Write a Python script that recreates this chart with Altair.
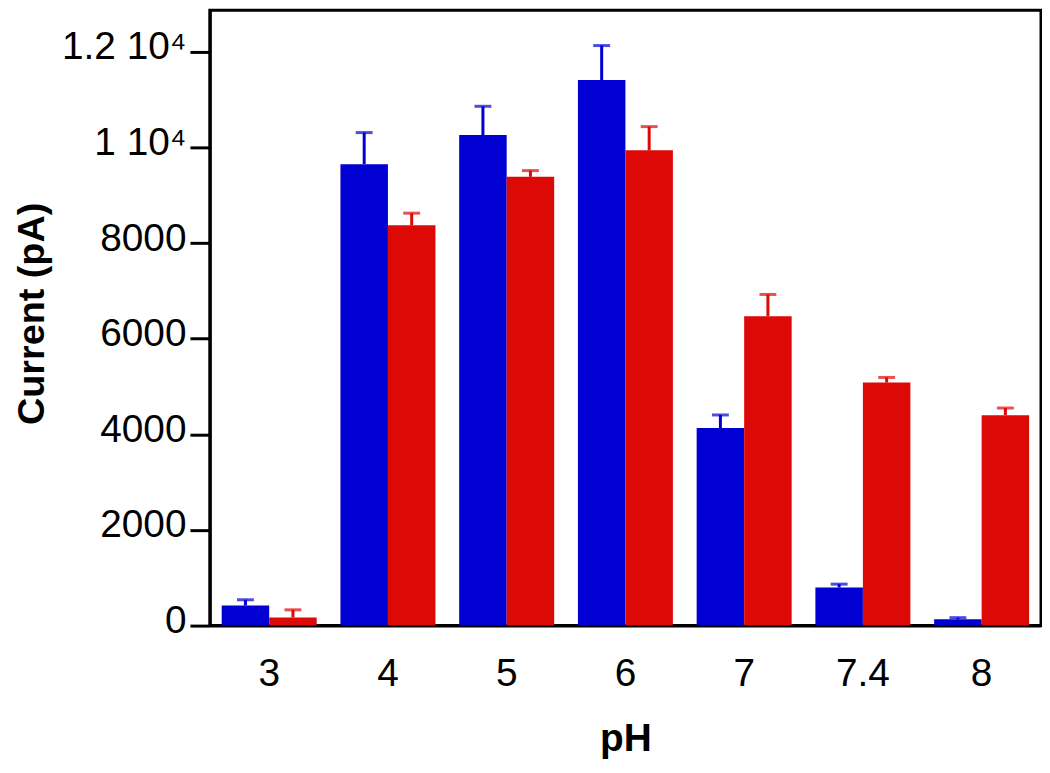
import altair as alt
import pandas as pd

ph = ["3", "4", "5", "6", "7", "7.4", "8"]
blue_vals = [420, 9650, 10260, 11410, 4130, 797, 131]
blue_errs = [120, 660, 600, 720, 275, 70, 35]
red_vals = [170, 8370, 9385, 9940, 6470, 5085, 4400]
red_errs = [160, 255, 130, 495, 455, 105, 150]
series = ["A", "B"]
colors = ["#0000D3", "#DD0906"]

rows = []
for i, p in enumerate(ph):
    rows.append({"pH": p, "s": "A", "v": blue_vals[i], "top": blue_vals[i] + blue_errs[i]})
    rows.append({"pH": p, "s": "B", "v": red_vals[i], "top": red_vals[i] + red_errs[i]})
df = pd.DataFrame(rows)

FONT = "Liberation Sans"
color = alt.Color("s:N", scale=alt.Scale(domain=series, range=colors), legend=None)
x = alt.X("pH:N", sort=ph,
          scale=alt.Scale(paddingInner=0.2, paddingOuter=0.1),
          axis=alt.Axis(title="pH", labelAngle=0, ticks=False, labelPadding=29,
                        labelFontSize=39, labelFont=FONT, labelColor="black",
                        domainColor="black", domainWidth=3,
                        titleFont=FONT, titleFontSize=39, titleFontWeight="bold",
                        titleColor="black", titleBaseline="alphabetic",
                        titleY=126))
xo = alt.XOffset("s:N", sort=series)
yscale = alt.Scale(domain=[0, 12870], nice=False, zero=True)
y = alt.Y("v:Q", scale=yscale,
          axis=alt.Axis(title="Current (pA)", values=[0, 2000, 4000, 6000, 8000, 10000, 12000],
                        labelExpr="datum.value == 10000 ? '1 10⁴' : datum.value == 12000 ? '1.2 10⁴' : datum.value",
                        grid=False, tickSize=20, tickWidth=3, tickColor="black",
                        labelPadding=4, labelFontSize=39, labelFont=FONT, labelColor="black",
                        labelBaseline="middle", labelOffset=-5,
                        domainColor="black", domainWidth=3,
                        titleFont=FONT, titleFontSize=38, titleFontWeight="bold",
                        titleColor="black", titleBaseline="alphabetic",
                        titleAngle=-90, titleX=-167, titleY=305, titleAnchor="middle"))

bars = alt.Chart(df).mark_bar(stroke=None).encode(x=x, xOffset=xo, y=y, color=color)
stems = alt.Chart(df).mark_rule(strokeWidth=3).encode(
    x=x, xOffset=xo, y=alt.Y("v:Q", scale=yscale), y2="top:Q", color=color)
caps = alt.Chart(df).mark_tick(thickness=3, size=17, orient="horizontal").encode(
    x=x, xOffset=xo, y=alt.Y("top:Q", scale=yscale), color=color)

chart = alt.layer(bars, stems, caps).properties(
    width=836, height=619,
    background="white",
    autosize=alt.AutoSizeParams(type="none"),
    padding={"left": 203, "top": 0, "right": 1, "bottom": 134},
).configure_view(stroke="black", strokeWidth=3)

chart.save("out.html", embed_options={"renderer": "svg", "actions": False})
